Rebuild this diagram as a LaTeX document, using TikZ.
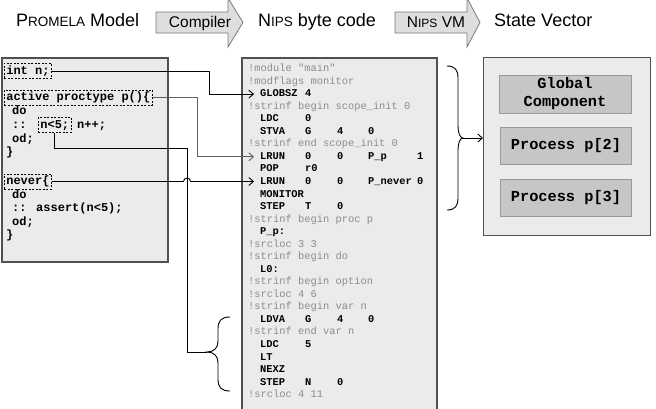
\documentclass[tikz,border=0pt]{standalone}
\usepackage{fontspec}
\setmainfont{Liberation Sans}
\newfontfamily\monof{Liberation Mono}
\usetikzlibrary{arrows.meta,calc}
\definecolor{panel}{HTML}{EBEBEB}
\definecolor{panelborder}{HTML}{505050}
\definecolor{svfill}{HTML}{C6C6C6}
\definecolor{svborder}{HTML}{9A9A9A}
\definecolor{cmt}{HTML}{8C8C8C}
\definecolor{arrfill}{HTML}{DEDEDE}
\definecolor{arrborder}{HTML}{7A7A7A}
\definecolor{conngray}{HTML}{606060}
\newcommand\bcins[5]{\makebox[45pt][l]{#1}\makebox[32pt][l]{#2}\makebox[31pt][l]{#3}\makebox[49pt][l]{#4}#5}
\newcommand\smc[1]{{\fontsize{13.5}{13.5}\selectfont #1}}
\begin{document}
\begin{tikzpicture}[x=1pt,y=-1pt,
  panelbox/.style={draw=panelborder, fill=panel, line width=1.1pt},
  pml/.style={anchor=west, inner sep=0pt, font=\monof\bfseries\fontsize{12}{12}\selectfont, text height=8.4pt, text depth=2.4pt},
  dbox/.style={pml, draw, dash pattern=on 2pt off 1.5pt, line width=0.7pt, inner xsep=2pt, inner ysep=2.2pt},
  bcc/.style={anchor=west, inner sep=0pt, font=\monof\fontsize{10.4}{10.4}\selectfont, text=cmt, text height=7.3pt, text depth=2pt},
  bci/.style={bcc, text=black, font=\monof\bfseries\fontsize{10.4}{10.4}\selectfont},
  head/.style={anchor=base west, inner sep=0pt, font=\fontsize{18}{18}\selectfont},
  arrlabel/.style={anchor=base, inner sep=0pt, font=\fontsize{15.5}{15.5}\selectfont},
  bigarrow/.style={draw=arrborder, fill=arrfill, line width=0.8pt},
  svpart/.style={draw=svborder, fill=svfill, line width=0.9pt, minimum width=131pt, minimum height=37pt, align=center, font=\monof\bfseries\fontsize{15.3}{18}\selectfont, inner sep=0pt},
  conn/.style={line width=0.9pt, black},
  tip/.style={-{Straight Barb[length=4.5pt,width=8pt,line width=0.9pt]}},
  brace/.style={line width=0.9pt, black}
]
\useasboundingbox (0,0) rectangle (656,408);

% ---------- header ----------
\draw[bigarrow] (156,12) -- (228,12) -- (228,-2) -- (243,22.5) -- (228,47) -- (228,33) -- (156,33) -- cycle;
\draw[bigarrow] (395,12) -- (467,12) -- (467,-2) -- (480,22.5) -- (467,47) -- (467,33) -- (395,33) -- cycle;
\node[head] (hpromela) at (16,26) {P\smc{ROMELA} Model};
\node[arrlabel] (hcomp) at (200,27) {Compiler};
\node[head] (hnips) at (258,26) {N\smc{IPS} byte code};
\node[arrlabel] (hvm) at (436,27) {N{\fontsize{12}{12}\selectfont IPS} VM};
\node[head] (hsv) at (494,26) {State Vector};

% ---------- panels ----------
\draw[panelbox] (2,58) rectangle (168,262);
\draw[panelbox] (242,58) rectangle (437,412);
\node[panelbox, minimum width=167pt, minimum height=178pt, anchor=north west, inner sep=0pt] (sv) at (483,57) {};

% ---------- Promela code ----------
\node[dbox] (intn) at (4,71) {int n;};
\node[dbox] (active) at (4,97.5) {active proctype p()\{};
\node[pml] (p3) at (12,111.5) {do};
\node[pml] (p4a) at (12,125) {::};
\node[dbox] (nlt) at (38,125) {n<5;};
\node[pml] (p4b) at (77,125) {n++;};
\node[pml] (p5) at (12,139) {od;};
\node[pml] (p6) at (6,152.5) {\}};
\node[dbox] (never) at (4,181.5) {never\{};
\node[pml] (p8) at (12,195) {do};
\node[pml] (p9) at (12,208.5) {:: assert(n<5);};
\node[pml] (p10) at (12,222) {od;};
\node[pml] (p11) at (6,235.5) {\}};

% ---------- byte code ----------
\node[bcc] (l0)  at (248,69.0)  {!module "main"};
\node[bcc] (l1)  at (248,81.5)  {!modflags monitor};
\node[bci] (l2)  at (260,94.1)  {\bcins{GLOBSZ}{4}{}{}{}};
\node[bcc] (l3)  at (248,106.6) {!strinf begin scope\_init 0};
\node[bci] (l4)  at (260,119.2) {\bcins{LDC}{0}{}{}{}};
\node[bci] (l5)  at (260,131.7) {\bcins{STVA}{G}{4}{0}{}};
\node[bcc] (l6)  at (248,144.2) {!strinf end scope\_init 0};
\node[bci] (l7)  at (260,156.8) {\bcins{LRUN}{0}{0}{P\_p}{1}};
\node[bci] (l8)  at (260,169.3) {\bcins{POP}{r0}{}{}{}};
\node[bci] (l9)  at (260,181.5) {\bcins{LRUN}{0}{0}{P\_never}{0}};
\node[bci] (l10) at (260,194.4) {MONITOR};
\node[bci] (l11) at (260,206.9) {\bcins{STEP}{T}{0}{}{}};
\node[bcc] (l12) at (248,219.5) {!strinf begin proc p};
\node[bci] (l13) at (260,232.0) {P\_p:};
\node[bcc] (l14) at (248,244.6) {!srcloc 3 3};
\node[bcc] (l15) at (248,257.1) {!strinf begin do};
\node[bci] (l16) at (260,269.6) {L0:};
\node[bcc] (l17) at (248,282.2) {!strinf begin option};
\node[bcc] (l18) at (248,294.7) {!srcloc 4 6};
\node[bcc] (l19) at (248,307.3) {!strinf begin var n};
\node[bci] (l20) at (260,319.8) {\bcins{LDVA}{G}{4}{0}{}};
\node[bcc] (l21) at (248,332.3) {!strinf end var n};
\node[bci] (l22) at (260,344.9) {\bcins{LDC}{5}{}{}{}};
\node[bci] (l23) at (260,357.4) {LT};
\node[bci] (l24) at (260,370.0) {NEXZ};
\node[bci] (l25) at (260,382.5) {\bcins{STEP}{N}{0}{}{}};
\node[bcc] (l26) at (248,395.0) {!srcloc 4 11};

% ---------- state vector ----------
\node[svpart, minimum width=132pt, minimum height=38pt] (glob) at (565,94) {Global\\Component};
\node[svpart] (pp2) at (566,145.5) {Process p[2]};
\node[svpart] (pp3) at (566,197.5) {Process p[3]};

% ---------- connectors ----------
\coordinate (j1) at (209,0);
\coordinate (j2) at (197,0);
\coordinate (j4) at (187,0);
\coordinate (j5) at (54,148);

\draw[conn, tip] (intn.east) -- (intn.east -| j1) -- (j1 |- l2.west) -- ($(l2.west)+(-6,0)$);
\draw[conn, conngray, tip] (active.east) -- (active.east -| j2) -- (j2 |- l7.west) -- ($(l7.west)+(-6,0)$);

% brace over lines 20..25 and the n<5 connector
\coordinate (lbtip) at (207,352);
\draw[conn] (nlt.south -| j5) -- (j5) -- (j5 -| j4) -- (j4 |- lbtip) -- (lbtip);
\draw[brace] (230,317) .. controls (221,317) and (218,321) .. (218,329)
  -- (218,341) .. controls (218,348) and (214,352) .. (lbtip)
  .. controls (214,352) and (218,356) .. (218,363)
  -- (218,379) .. controls (218,387) and (221,391) .. (230,391);

% never line with hop over the vertical connector
\coordinate (hopc) at (never.east -| j4);
\draw[conn, tip] (never.east) -- ($(hopc)+(-3.5,0)$)
  .. controls +(0,-4.5) and +(0,-4.5) .. ($(hopc)+(3.5,0)$)
  -- ($(never.east -| l9.west)+(-6,0)$);

% brace from byte code to state vector
\coordinate (rbtip) at (463,138);
\draw[brace] (447,66) .. controls (455,66) and (458,70) .. (458,78)
  -- (458,126) .. controls (458,133) and (460,138) .. (rbtip)
  .. controls (460,138) and (458,143) .. (458,150)
  -- (458,198) .. controls (458,206) and (455,210) .. (447,210);
\draw[conn, tip] (rbtip) -- (rbtip -| sv.west);
\end{tikzpicture}
\end{document}
